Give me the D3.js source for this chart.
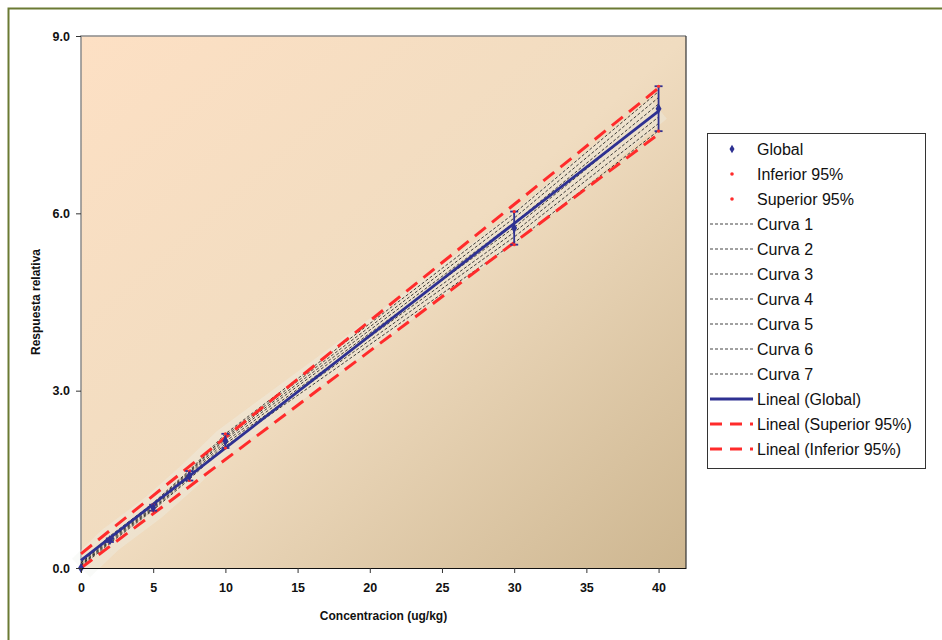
<!DOCTYPE html>
<html>
<head>
<meta charset="utf-8">
<script src="https://d3js.org/d3.v7.min.js"></script>
<style>
  body { margin: 0; background: #fff; }
  svg { display: block; font-family: Arial, "Liberation Sans", sans-serif; }
</style>
</head>
<body>
<div id="chart-container"></div>
<script>
// concentration levels (ug/kg)
const conc = [0, 2, 5, 7.5, 10, 30, 40];

// mean relative response and its 95% interval
const globalValues = [0.0, 0.47, 1.02, 1.56, 2.15, 5.75, 7.77];
const errValues = [0.0, 0.03, 0.05, 0.08, 0.12, 0.28, 0.38];
const inferiorValues = [0.0, 0.44, 0.97, 1.48, 2.03, 5.47, 7.39];
const superiorValues = [0.0, 0.50, 1.07, 1.64, 2.27, 6.03, 8.15];

// the seven individual calibration curves
const curveNames = ["Curva 1", "Curva 2", "Curva 3", "Curva 4", "Curva 5", "Curva 6", "Curva 7"];
const curve1 = [0.02, 0.42, 0.98, 1.50, 2.06, 5.50, 7.40];
const curve2 = [0.04, 0.44, 1.00, 1.53, 2.10, 5.60, 7.52];
const curve3 = [0.05, 0.46, 1.02, 1.56, 2.14, 5.68, 7.63];
const curve4 = [0.06, 0.48, 1.04, 1.59, 2.18, 5.76, 7.74];
const curve5 = [0.08, 0.50, 1.06, 1.61, 2.21, 5.84, 7.85];
const curve6 = [0.09, 0.52, 1.08, 1.63, 2.24, 5.92, 7.96];
const curve7 = [0.11, 0.54, 1.10, 1.65, 2.27, 6.00, 8.06];
const curves = [curve1, curve2, curve3, curve4, curve5, curve6, curve7];

// linear trend lines: Global, Superior 95%, Inferior 95%
const trendNames = ["Lineal (Global)", "Lineal (Superior 95%)", "Lineal (Inferior 95%)"];
const trendIntercepts = [0.13, 0.24, 0.0];
const trendSlopes = [0.19, 0.197, 0.1835];

const xTicks = [0, 5, 10, 15, 20, 25, 30, 35, 40];
const yTicks = [0, 3, 6, 9];

const width = 942;
const height = 640;
const plot = { left: 81, top: 36, right: 686, bottom: 568 };

const navy = "#2e3192";
const red = "#ff2b2b";

const svg = d3.select("#chart-container")
    .append("svg")
    .attr("width", width)
    .attr("height", height);

// outer frame (only top and left are in view)
svg.append("path")
    .attr("d", "M8.5,640V8.5H942")
    .attr("fill", "none")
    .attr("stroke", "#6b7a33")
    .attr("stroke-width", 2);

const x = d3.scaleLinear().domain([0, 41.9]).range([plot.left, plot.right]);
const y = d3.scaleLinear().domain([0, 9]).range([plot.bottom, plot.top]);

// plot background gradient
const grad = svg.append("defs").append("linearGradient")
    .attr("id", "bg")
    .attr("x1", "0%").attr("y1", "0%")
    .attr("x2", "100%").attr("y2", "100%");
grad.append("stop").attr("offset", "0%").attr("stop-color", "#fde0c4");
grad.append("stop").attr("offset", "50%").attr("stop-color", "#f0dcc0");
grad.append("stop").attr("offset", "100%").attr("stop-color", "#cdb690");

svg.append("rect")
    .attr("x", plot.left)
    .attr("y", plot.top)
    .attr("width", plot.right - plot.left)
    .attr("height", plot.bottom - plot.top)
    .attr("fill", "url(#bg)");

// plot border: grey top/left, dark right
svg.append("path")
    .attr("d", `M${plot.left},${plot.bottom}V${plot.top}H${plot.right}`)
    .attr("fill", "none").attr("stroke", "#8a8a8a").attr("stroke-width", 1.5);
svg.append("path")
    .attr("d", `M${plot.right},${plot.top}V${plot.bottom}`)
    .attr("fill", "none").attr("stroke", "#333").attr("stroke-width", 1.2);

const g = svg.append("g");

const line = d3.line()
    .x((d, i) => x(conc[i]))
    .y(d => y(d));

// faint halo under the bundle of lines
g.append("path")
    .datum(globalValues)
    .attr("d", line)
    .attr("fill", "none")
    .attr("stroke", "#eef0ea")
    .attr("stroke-opacity", 0.35)
    .attr("stroke-width", 26);

// individual curves
g.selectAll(".curve")
    .data(curves)
    .join("path")
    .attr("class", "curve")
    .attr("d", line)
    .attr("fill", "none")
    .attr("stroke", "#111")
    .attr("stroke-width", 0.8)
    .attr("stroke-dasharray", "3,2");

// trend lines
const trendStyle = [
    { color: navy, width: 2.8, dash: null },
    { color: red, width: 3, dash: "14,8" },
    { color: red, width: 3, dash: "14,8" }
];
const trendX = [0, 40];
trendIntercepts.forEach((a, k) => {
    g.append("path")
        .datum(trendX.map(v => [v, a + trendSlopes[k] * v]))
        .attr("d", d3.line().x(d => x(d[0])).y(d => y(d[1])))
        .attr("fill", "none")
        .attr("stroke", trendStyle[k].color)
        .attr("stroke-width", trendStyle[k].width)
        .attr("stroke-dasharray", trendStyle[k].dash);
});

// error bars on the global series
const eb = g.selectAll(".eb")
    .data(globalValues.map((v, i) => ({ x: conc[i], v: v, e: errValues[i] })).filter(d => d.e > 0))
    .join("g")
    .attr("class", "eb")
    .attr("stroke", navy)
    .attr("stroke-width", 1.8);
eb.append("line")
    .attr("x1", d => x(d.x)).attr("x2", d => x(d.x))
    .attr("y1", d => y(d.v - d.e)).attr("y2", d => y(d.v + d.e));
eb.append("line")
    .attr("x1", d => x(d.x) - 4).attr("x2", d => x(d.x) + 4)
    .attr("y1", d => y(d.v + d.e)).attr("y2", d => y(d.v + d.e));
eb.append("line")
    .attr("x1", d => x(d.x) - 4).attr("x2", d => x(d.x) + 4)
    .attr("y1", d => y(d.v - d.e)).attr("y2", d => y(d.v - d.e));

// inferior / superior points
g.selectAll(".inf")
    .data(inferiorValues)
    .join("circle")
    .attr("cx", (d, i) => x(conc[i]))
    .attr("cy", d => y(d))
    .attr("r", 1.6)
    .attr("fill", red);
g.selectAll(".sup")
    .data(superiorValues)
    .join("circle")
    .attr("cx", (d, i) => x(conc[i]))
    .attr("cy", d => y(d))
    .attr("r", 1.6)
    .attr("fill", red);

// global points (diamonds)
const diamond = d3.symbol().type(d3.symbolDiamond).size(30);
g.selectAll(".pt")
    .data(globalValues)
    .join("path")
    .attr("d", diamond)
    .attr("transform", (d, i) => `translate(${x(conc[i])},${y(d)})`)
    .attr("fill", navy);

// axes
const xAxis = svg.append("g")
    .attr("transform", `translate(0,${plot.bottom})`)
    .call(d3.axisBottom(x).tickValues(xTicks).tickFormat(d3.format("d")).tickSize(5).tickPadding(10).tickSizeOuter(0));
xAxis.select(".domain").attr("stroke", "#111").attr("stroke-width", 1.2);

const yAxis = svg.append("g")
    .attr("transform", `translate(${plot.left},0)`)
    .call(d3.axisLeft(y).tickValues(yTicks).tickFormat(d3.format(".1f")).tickSize(5).tickPadding(6).tickSizeOuter(0));
yAxis.select(".domain").remove();

svg.selectAll(".tick text")
    .attr("font-family", "Arial, 'Liberation Sans', sans-serif")
    .attr("font-size", 12.5)
    .attr("font-weight", "bold")
    .attr("fill", "#111");
svg.selectAll(".tick line").attr("stroke", "#333");

// axis titles
svg.append("text")
    .attr("x", (plot.left + plot.right) / 2)
    .attr("y", 620)
    .attr("text-anchor", "middle")
    .attr("font-size", 12)
    .attr("font-weight", "bold")
    .attr("fill", "#111")
    .text("Concentracion (ug/kg)");

svg.append("text")
    .attr("transform", `translate(40,${(plot.top + plot.bottom) / 2}) rotate(-90)`)
    .attr("text-anchor", "middle")
    .attr("font-size", 12)
    .attr("font-weight", "bold")
    .attr("fill", "#111")
    .text("Respuesta relativa");

// legend
const legendItems = [
    { name: "Global", type: "diamond" },
    { name: "Inferior 95%", type: "dot" },
    { name: "Superior 95%", type: "dot" }
].concat(curveNames.map(n => ({ name: n, type: "curve" })))
 .concat(trendNames.map((n, k) => ({ name: n, type: "trend", k: k })));

const legend = svg.append("g");
legend.append("rect")
    .attr("x", 707.5).attr("y", 133.5)
    .attr("width", 218).attr("height", 335)
    .attr("fill", "#fff")
    .attr("stroke", "#333")
    .attr("stroke-width", 1);

const item = legend.selectAll(".item")
    .data(legendItems)
    .join("g")
    .attr("transform", (d, i) => `translate(0,${149 + i * 25})`);

item.filter(d => d.type === "diamond").append("path")
    .attr("d", d3.symbol().type(d3.symbolDiamond).size(22))
    .attr("transform", "translate(732,0)")
    .attr("fill", navy);
item.filter(d => d.type === "dot").append("circle")
    .attr("cx", 732).attr("r", 1.8).attr("fill", red);
item.filter(d => d.type === "curve").append("line")
    .attr("x1", 710).attr("x2", 753)
    .attr("stroke", "#111").attr("stroke-width", 0.8).attr("stroke-dasharray", "3,2");
item.filter(d => d.type === "trend").append("line")
    .attr("x1", 710).attr("x2", 753)
    .attr("stroke", d => trendStyle[d.k].color)
    .attr("stroke-width", d => trendStyle[d.k].width)
    .attr("stroke-dasharray", d => d.k === 0 ? null : "12,8");

item.append("text")
    .attr("x", 757)
    .attr("dy", "0.35em")
    .attr("font-size", 16)
    .attr("fill", "#111")
    .text(d => d.name);
</script>
</body>
</html>
